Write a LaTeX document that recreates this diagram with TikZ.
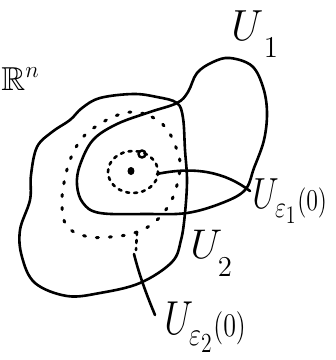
\documentclass[tikz,border=0pt]{standalone}
\usepackage{amssymb}
\newcommand\hsub[2]{\lower#1pt\hbox{$\scriptstyle#2$}}
\begin{document}
\begin{tikzpicture}[x=1pt,y=-1pt,
  pen/.style={line width=2.6pt,line cap=round,line join=round},
  dotpen/.style={line width=3pt,line cap=round,dash pattern=on 2pt off 11pt},
  dashpen/.style={line width=2.6pt,line cap=round,dash pattern=on 3pt off 5pt},
  lbl/.style={inner sep=0pt,anchor=base west,font=\huge}]
\useasboundingbox (0,0) rectangle (336,360);
% U2 big region
\draw[pen] plot[smooth cycle,tension=0.6] coordinates {
 (82,108) (100,98) (133,94) (157,97) (177,103) (183,118) (185,150) (187,180)
 (185,213) (181,240) (172,262) (140,283) (100,293) (67,296) (35,283) (22,257)
 (20,230) (30,200) (31,175) (37,147) (52,132) (70,120)};
% U1 region
\draw[pen] plot[smooth cycle,tension=0.6] coordinates {
 (177,103) (188,92) (197,73) (213,62) (230,58) (252,66) (263,87) (267,112)
 (264,140) (254,168) (245,190) (222,203) (187,213) (147,214) (100,213)
 (83,203) (77,185) (80,165) (93,140) (117,124) (150,112)};
% outer dotted ball U_eps2(0)
\draw[dotpen] plot[smooth cycle,tension=0.7] coordinates {
 (133,112) (152,117) (166,128) (175,145) (180,163) (177,185) (170,203)
 (157,220) (137,232) (110,237) (85,236) (67,226) (62,205) (65,178)
 (73,153) (85,135) (100,124) (115,116)};
% inner dashed ball U_eps1(0)
\draw[dashpen] (133,172) ellipse [x radius=25,y radius=21];
% centre point
\draw[line width=2.4pt] (142,154) circle [radius=3.5];
\fill (131,171) ellipse [x radius=3.5,y radius=4];
% labels
\node[lbl,xscale=2.0,yscale=2.1] (u1) at (231,40) {$U_{\,\hsub{5}{1}}$};
\node[lbl,xscale=2.0,yscale=2.0] (u2) at (190,258) {$U_{\hsub{6}{2}}$};
\node[lbl,xscale=1.65,yscale=2.1] (ue1) at (252,208) {$U_{\hsub{1.5}{\varepsilon_1}}\hsub{1}{(0)}$};
\node[lbl,xscale=1.8,yscale=2.3] (ue2) at (164,334) {$U_{\hsub{2}{\varepsilon_2}}\hsub{1}{(0)}$};
\node[lbl,scale=1.6] (rn) at (1,90) {$\mathbb{R}^n$};
% pointers
\coordinate (p1) at (157,174);
\coordinate (e1) at (250,191);
\coordinate (p2) at (137,232);
\coordinate (e2) at (155,315);
\draw[pen] (p1) .. controls (195,166) and (225,172) .. (e1);
\draw[dashpen] (p2) -- (136,250);
\draw[pen] (134,254) .. controls (140,278) and (148,298) .. (e2);
\end{tikzpicture}
\end{document}
